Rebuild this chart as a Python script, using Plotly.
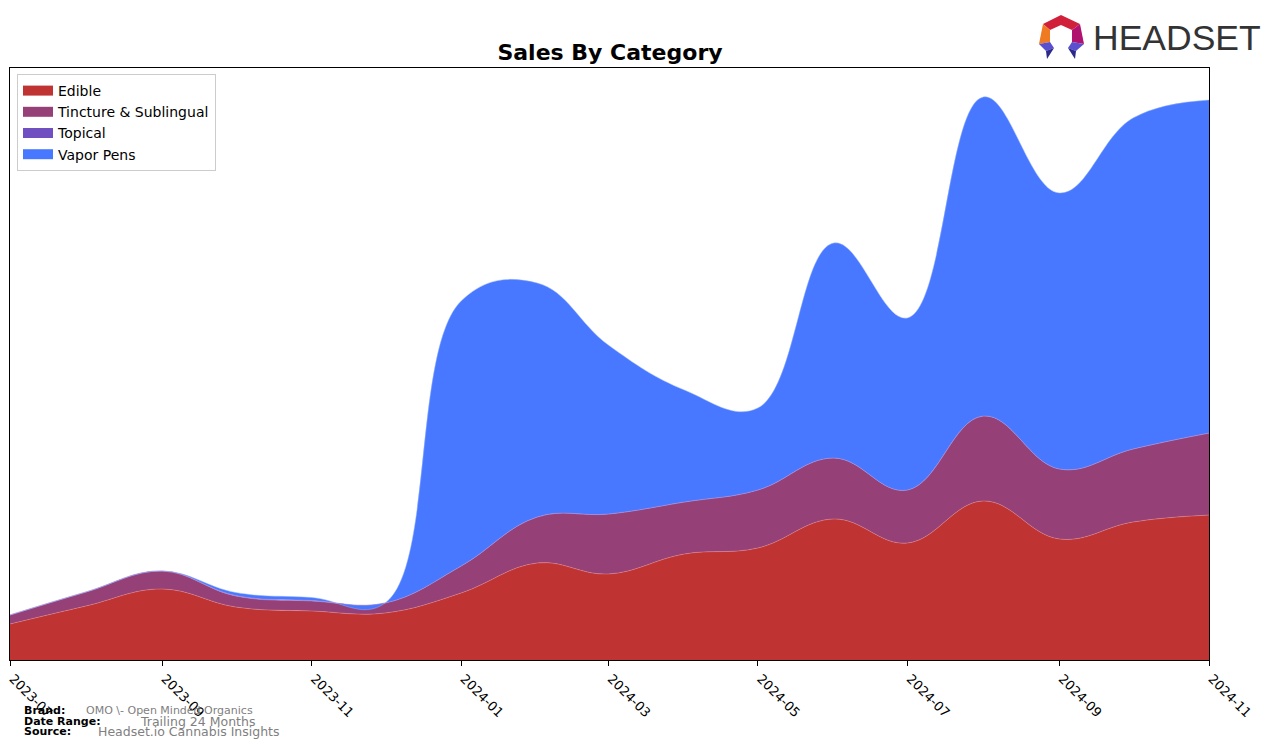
import plotly.graph_objects as go

months = ["2023-07-01", "2023-08-01", "2023-09-01", "2023-10-01", "2023-11-01", "2023-12-01",
          "2024-01-01", "2024-02-01", "2024-03-01", "2024-04-01", "2024-05-01", "2024-06-01",
          "2024-07-01", "2024-08-01", "2024-09-01", "2024-10-01", "2024-11-01"]
edible = [36, 54, 71, 53, 49, 47, 67, 97, 86, 106, 112, 141, 117, 159, 121, 138, 145]
tincture = [9, 14, 18, 11, 10, 10, 27, 46, 60, 52, 58, 61, 53, 85, 70, 73, 82]
topical = [0, 0, 0, 0.5, 0.5, 0, 0, 0, 0, 0, 0, 0, 0, 0, 0, 0, 0]
vapor = [0, 0, 0, 3, 3, 0, 265, 234, 169, 112, 82, 215, 172, 319, 276, 331, 333]

tick_vals = ["2023-07-01", "2023-09-01", "2023-11-01", "2024-01-01", "2024-03-01",
             "2024-05-01", "2024-07-01", "2024-09-01", "2024-11-01"]
tick_text = ["2023-07", "2023-09", "2023-11", "2024-01", "2024-03",
             "2024-05", "2024-07", "2024-09", "2024-11"]

series = [
    ("Edible", edible, "#c03333", "rgba(230,140,140,0.6)"),
    ("Tincture & Sublingual", tincture, "#964078", "rgba(200,140,190,0.6)"),
    ("Topical", topical, "#7050c0", "rgba(170,150,230,0.6)"),
    ("Vapor Pens", vapor, "#4878ff", "rgba(150,180,255,0.6)"),
]

W, H = 1276, 748
L, R, T, B = 10, 1209, 68, 660


def pxx(x):
    return (x - L) / (R - L)


def pxy(y):
    return (B - y) / (B - T)


fig = go.Figure()
for name, vals, col, lcol in series:
    fig.add_trace(go.Scatter(
        x=months, y=vals, name=name, mode="lines",
        stackgroup="one", fillcolor=col, showlegend=False,
        line=dict(shape="spline", smoothing=1.15, width=0.8, color=lcol),
        hoverinfo="x+y+name",
    ))
# legend swatches: thick short lines render as solid rectangles in the legend
for name, vals, col, lcol in series:
    fig.add_trace(go.Scatter(x=[None], y=[None], name=name, mode="lines",
                             line=dict(color=col, width=10),
                             showlegend=True, hoverinfo="skip"))

fig.update_layout(
    width=W, height=H,
    margin=dict(l=L, r=W - R, t=T, b=H - B, autoexpand=False),
    paper_bgcolor="white", plot_bgcolor="white",
    font=dict(family="DejaVu Sans", size=13, color="black"),
    title=dict(text="<b>Sales By Category</b>", x=pxx(610), xref="paper", xanchor="center",
               y=1 - 52 / H, yref="container", yanchor="middle",
               font=dict(family="DejaVu Sans", size=22, color="black")),
    showlegend=True,
    legend=dict(x=pxx(17), y=pxy(74), xanchor="left", yanchor="top",
                bgcolor="rgba(255,255,255,0.8)", bordercolor="#cccccc", borderwidth=1,
                traceorder="normal", font=dict(family="DejaVu Sans", size=14),
                tracegroupgap=0),
    xaxis=dict(type="date", range=["2023-07-01", "2024-11-01"], automargin=False,
               tickvals=tick_vals, ticktext=tick_text, tickangle=45, ticklabelshift=3,
               ticks="outside", ticklen=5, tickwidth=1, tickcolor="black",
               showline=True, linecolor="black", linewidth=1, mirror=True,
               showgrid=False, zeroline=False,
               tickfont=dict(family="DejaVu Sans", size=13, color="black")),
    yaxis=dict(range=[0, 592], showticklabels=False, ticks="", automargin=False,
               showline=True, linecolor="black", linewidth=1, mirror=True,
               showgrid=False, zeroline=False),
)

# Footer annotations
footer = [
    ("<b>Brand:</b>", 22, 710, 11, "black"),
    ("OMO \\- Open Minded Organics", 84, 710, 11, "#808080"),
    ("<b>Date Range:</b>", 22, 721, 11, "black"),
    ("Trailing 24 Months", 138, 721, 12.5, "#808080"),
    ("<b>Source:</b>", 22, 731, 11, "black"),
    ("Headset.io Cannabis Insights", 96, 731, 12.5, "#808080"),
]
for text, x, y, size, col in footer:
    fig.add_annotation(text=text, x=pxx(x), y=pxy(y), xref="paper", yref="paper",
                       xanchor="left", yanchor="middle", showarrow=False,
                       font=dict(family="DejaVu Sans", size=size, color=col))

# Logo
fig.add_annotation(text="HEADSET", x=pxx(1091), y=pxy(38), xref="paper", yref="paper",
                   xanchor="left", yanchor="middle", showarrow=False,
                   font=dict(family="Liberation Sans", size=35.5, color="#333333"))


def poly(points, color):
    d = "M " + " L ".join(f"{pxx(x):.5f},{pxy(y):.5f}" for x, y in points) + " Z"
    fig.add_shape(type="path", path=d, xref="paper", yref="paper",
                  fillcolor=color, line=dict(width=0), layer="above")


poly([(1043, 24), (1061, 15), (1080, 24), (1072, 30), (1061, 25), (1050, 30)], "#d0203a")
poly([(1043, 24), (1050, 30), (1050, 42), (1039, 44)], "#f07a22")
poly([(1080, 24), (1084, 44), (1072, 42), (1072, 30)], "#b0126f")
poly([(1039, 44), (1050, 42), (1054, 48), (1046, 51)], "#5a4fcf")
poly([(1046, 51), (1054, 48), (1047, 59)], "#2a2a8a")
poly([(1072, 42), (1084, 44), (1076, 51), (1068, 48)], "#5a4fcf")
poly([(1068, 48), (1076, 51), (1075, 59)], "#2a2a8a")

fig.write_html("out.html")
